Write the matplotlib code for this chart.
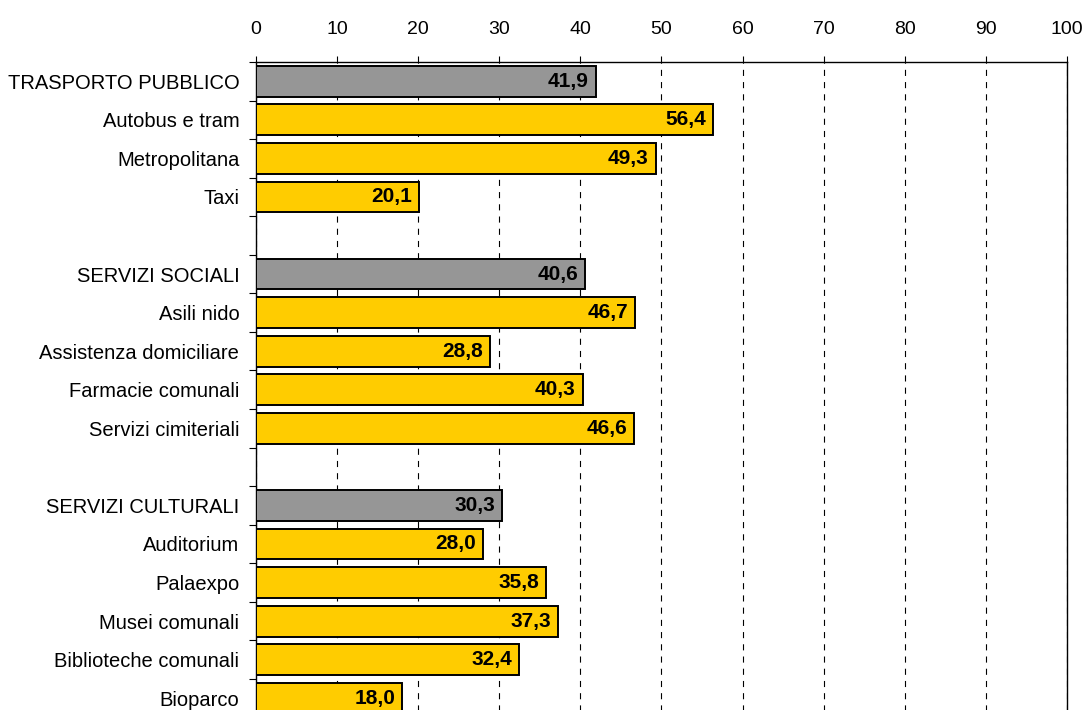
import matplotlib.pyplot as plt
import numpy as np

plt.rcParams['font.family'] = ['Liberation Sans', 'DejaVu Sans']

# three groups: header (grey bar) followed by its services (yellow bars)
trasporto = ['TRASPORTO PUBBLICO', 'Autobus e tram', 'Metropolitana', 'Taxi']
trasporto_val = [41.9, 56.4, 49.3, 20.1]

sociali = ['SERVIZI SOCIALI', 'Asili nido', 'Assistenza domiciliare',
           'Farmacie comunali', 'Servizi cimiteriali']
sociali_val = [40.6, 46.7, 28.8, 40.3, 46.6]

culturali = ['SERVIZI CULTURALI', 'Auditorium', 'Palaexpo', 'Musei comunali',
             'Biblioteche comunali', 'Bioparco']
culturali_val = [30.3, 28.0, 35.8, 37.3, 32.4, 18.0]

groups = [(trasporto, trasporto_val), (sociali, sociali_val), (culturali, culturali_val)]

# rows from top to bottom, with an empty row between groups
labels, values, is_head = [], [], []
for gi, (names, vals) in enumerate(groups):
    if gi > 0:
        labels.append('')
        values.append(np.nan)
        is_head.append(False)
    for i, (n, v) in enumerate(zip(names, vals)):
        labels.append(n)
        values.append(v)
        is_head.append(i == 0)

n = len(labels)
ypos = np.arange(n)

fig = plt.figure(figsize=(10.86, 7.10), dpi=100)
ax = fig.add_axes([0.2357, -0.0106, 0.7468, 0.9233])

for y, v, h in zip(ypos, values, is_head):
    if np.isnan(v):
        continue
    ax.barh(y, v, height=0.8, color='#969696' if h else '#FFCC00',
            edgecolor='black', linewidth=1.4, zorder=3)
    ax.annotate(f'{v:.1f}'.replace('.', ','), xy=(v, y), xytext=(-5, 0),
                textcoords='offset points', ha='right', va='center',
                fontsize=15, fontweight='bold', zorder=4)

ax.set_xlim(0, 100)
ax.set_ylim(n - 0.5, -0.5)
ax.xaxis.tick_top()
ax.set_xticks(np.arange(0, 101, 10))
ax.tick_params(axis='x', direction='out', length=4.5, width=0.8, pad=13, labelsize=14)

ax.set_yticks(ypos)
ax.set_yticklabels(labels)
ax.tick_params(axis='y', which='major', length=0, pad=12, labelsize=14.5)
ax.set_yticks(np.arange(-0.5, n, 1), minor=True)
ax.tick_params(axis='y', which='minor', direction='out', length=5, width=0.8)

ax.grid(axis='x', color='black', linestyle=(0, (5.5, 5.5)), linewidth=0.8, zorder=0)
for s in ax.spines.values():
    s.set_linewidth(1.0)
ax.spines['bottom'].set_visible(False)

fig.savefig('out.png', dpi=100)
